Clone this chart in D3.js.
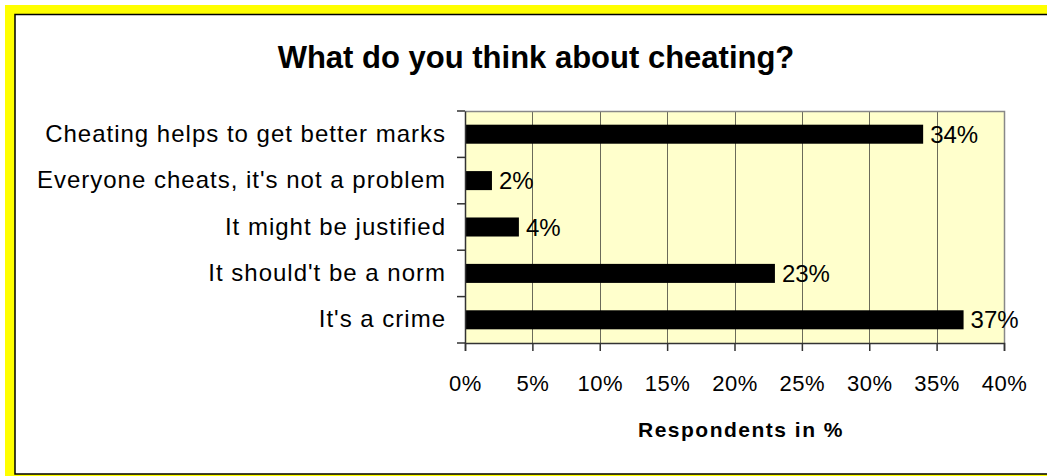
<!DOCTYPE html>
<html>
<head>
<meta charset="utf-8">
<script src="https://cdn.jsdelivr.net/npm/d3@7"></script>
<style>
  html, body { margin: 0; padding: 0; background: #ffffff; }
  svg { display: block; font-family: Arial, "Liberation Sans", sans-serif; }
</style>
</head>
<body>
<svg id="chart" width="1047" height="476"></svg>
<script>
// Survey answers, top to bottom
const categories = [
  "Cheating helps to get better marks",
  "Everyone cheats, it's not a problem",
  "It might be justified",
  "It should't be a norm",
  "It's a crime"
];
const values = [34, 2, 4, 23, 37];
const tickValues = [0, 5, 10, 15, 20, 25, 30, 35, 40];

const FONT = "Arial, 'Liberation Sans', sans-serif";
const svg = d3.select("#chart");
const W = 1047, H = 476;

// Yellow outer frame and white chart panel
svg.append("rect").attr("x", 5).attr("y", 5).attr("width", W - 5).attr("height", H - 5)
  .attr("fill", "#ffff00");
svg.append("rect").attr("x", 15).attr("y", 14.5).attr("width", W - 14).attr("height", 459.5)
  .attr("fill", "#ffffff").attr("stroke", "#000000").attr("stroke-width", 1.5);

const plot = { left: 465, right: 1004, top: 111, bottom: 343 };

const x = d3.scaleLinear().domain([0, 40]).range([plot.left, plot.right]);
const y = d3.scaleBand().domain(categories).range([plot.top, plot.bottom]).paddingInner(0.59).paddingOuter(0.295);
const yTicks = d3.scaleBand().domain(categories).range([plot.top, plot.bottom]);

// Plot background
svg.append("rect")
  .attr("x", plot.left).attr("y", plot.top)
  .attr("width", plot.right - plot.left).attr("height", plot.bottom - plot.top)
  .attr("fill", "#ffffcc");

// Vertical gridlines
svg.append("g").selectAll("line")
  .data(tickValues.filter(v => v > 0 && v < 40))
  .join("line")
  .attr("x1", d => Math.round(x(d)) + 0.5).attr("x2", d => Math.round(x(d)) + 0.5)
  .attr("y1", plot.top).attr("y2", plot.bottom)
  .attr("stroke", "#6b6b5a").attr("stroke-width", 1);

// Plot border (top and right)
svg.append("path")
  .attr("d", `M${plot.left},${plot.top + 0.5}H${plot.right + 0.5}V${plot.bottom}`)
  .attr("fill", "none").attr("stroke", "#888888").attr("stroke-width", 1.5);

// Bars
svg.append("g").selectAll("rect")
  .data(values)
  .join("rect")
  .attr("x", x(0))
  .attr("y", (d, i) => y(categories[i]))
  .attr("width", d => x(d) - x(0))
  .attr("height", y.bandwidth())
  .attr("fill", "#000000");

// Value labels
svg.append("g").selectAll("text")
  .data(values)
  .join("text")
  .attr("x", d => x(d) + 7)
  .attr("y", (d, i) => y(categories[i]) + y.bandwidth() / 2)
  .attr("dy", "0.36em")
  .attr("font-size", 24)
  .attr("fill", "#000")
  .text(d => d + "%");

// Y axis with category labels
const yAxis = d3.axisLeft(yTicks).tickSize(0).tickPadding(19);
const gy = svg.append("g").attr("transform", `translate(${plot.left},0)`).call(yAxis);
gy.select(".domain").attr("stroke", "#333333").attr("stroke-width", 1.5);
gy.selectAll("text").attr("font-size", 24).attr("fill", "#000")
  .attr("font-family", FONT).attr("letter-spacing", 1);
// category separator ticks
svg.append("g").selectAll("line")
  .data(d3.range(categories.length + 1))
  .join("line")
  .attr("x1", plot.left - 8).attr("x2", plot.left)
  .attr("y1", i => plot.top + i * yTicks.step()).attr("y2", i => plot.top + i * yTicks.step())
  .attr("stroke", "#333333").attr("stroke-width", 1.5);

// X axis
const xAxis = d3.axisBottom(x).tickValues(tickValues).tickSize(8).tickPadding(24)
  .tickFormat(d => d + "%");
const gx = svg.append("g").attr("transform", `translate(0,${plot.bottom})`).call(xAxis);
gx.select(".domain").attr("stroke", "#333333").attr("stroke-width", 1.5);
gx.selectAll(".tick line").attr("stroke", "#333333").attr("stroke-width", 1.5);
gx.selectAll("text").attr("font-size", 22).attr("fill", "#000")
  .attr("font-family", FONT).attr("letter-spacing", 0.5);

// Axis title
svg.append("text")
  .attr("x", 741).attr("y", 437)
  .attr("text-anchor", "middle").attr("font-size", 21).attr("font-weight", "bold")
  .attr("letter-spacing", 1.5)
  .text("Respondents in %");

// Chart title
svg.append("text")
  .attr("x", 536).attr("y", 68)
  .attr("text-anchor", "middle").attr("font-size", 31).attr("font-weight", "bold")
  .text("What do you think about cheating?");
</script>
</body>
</html>
